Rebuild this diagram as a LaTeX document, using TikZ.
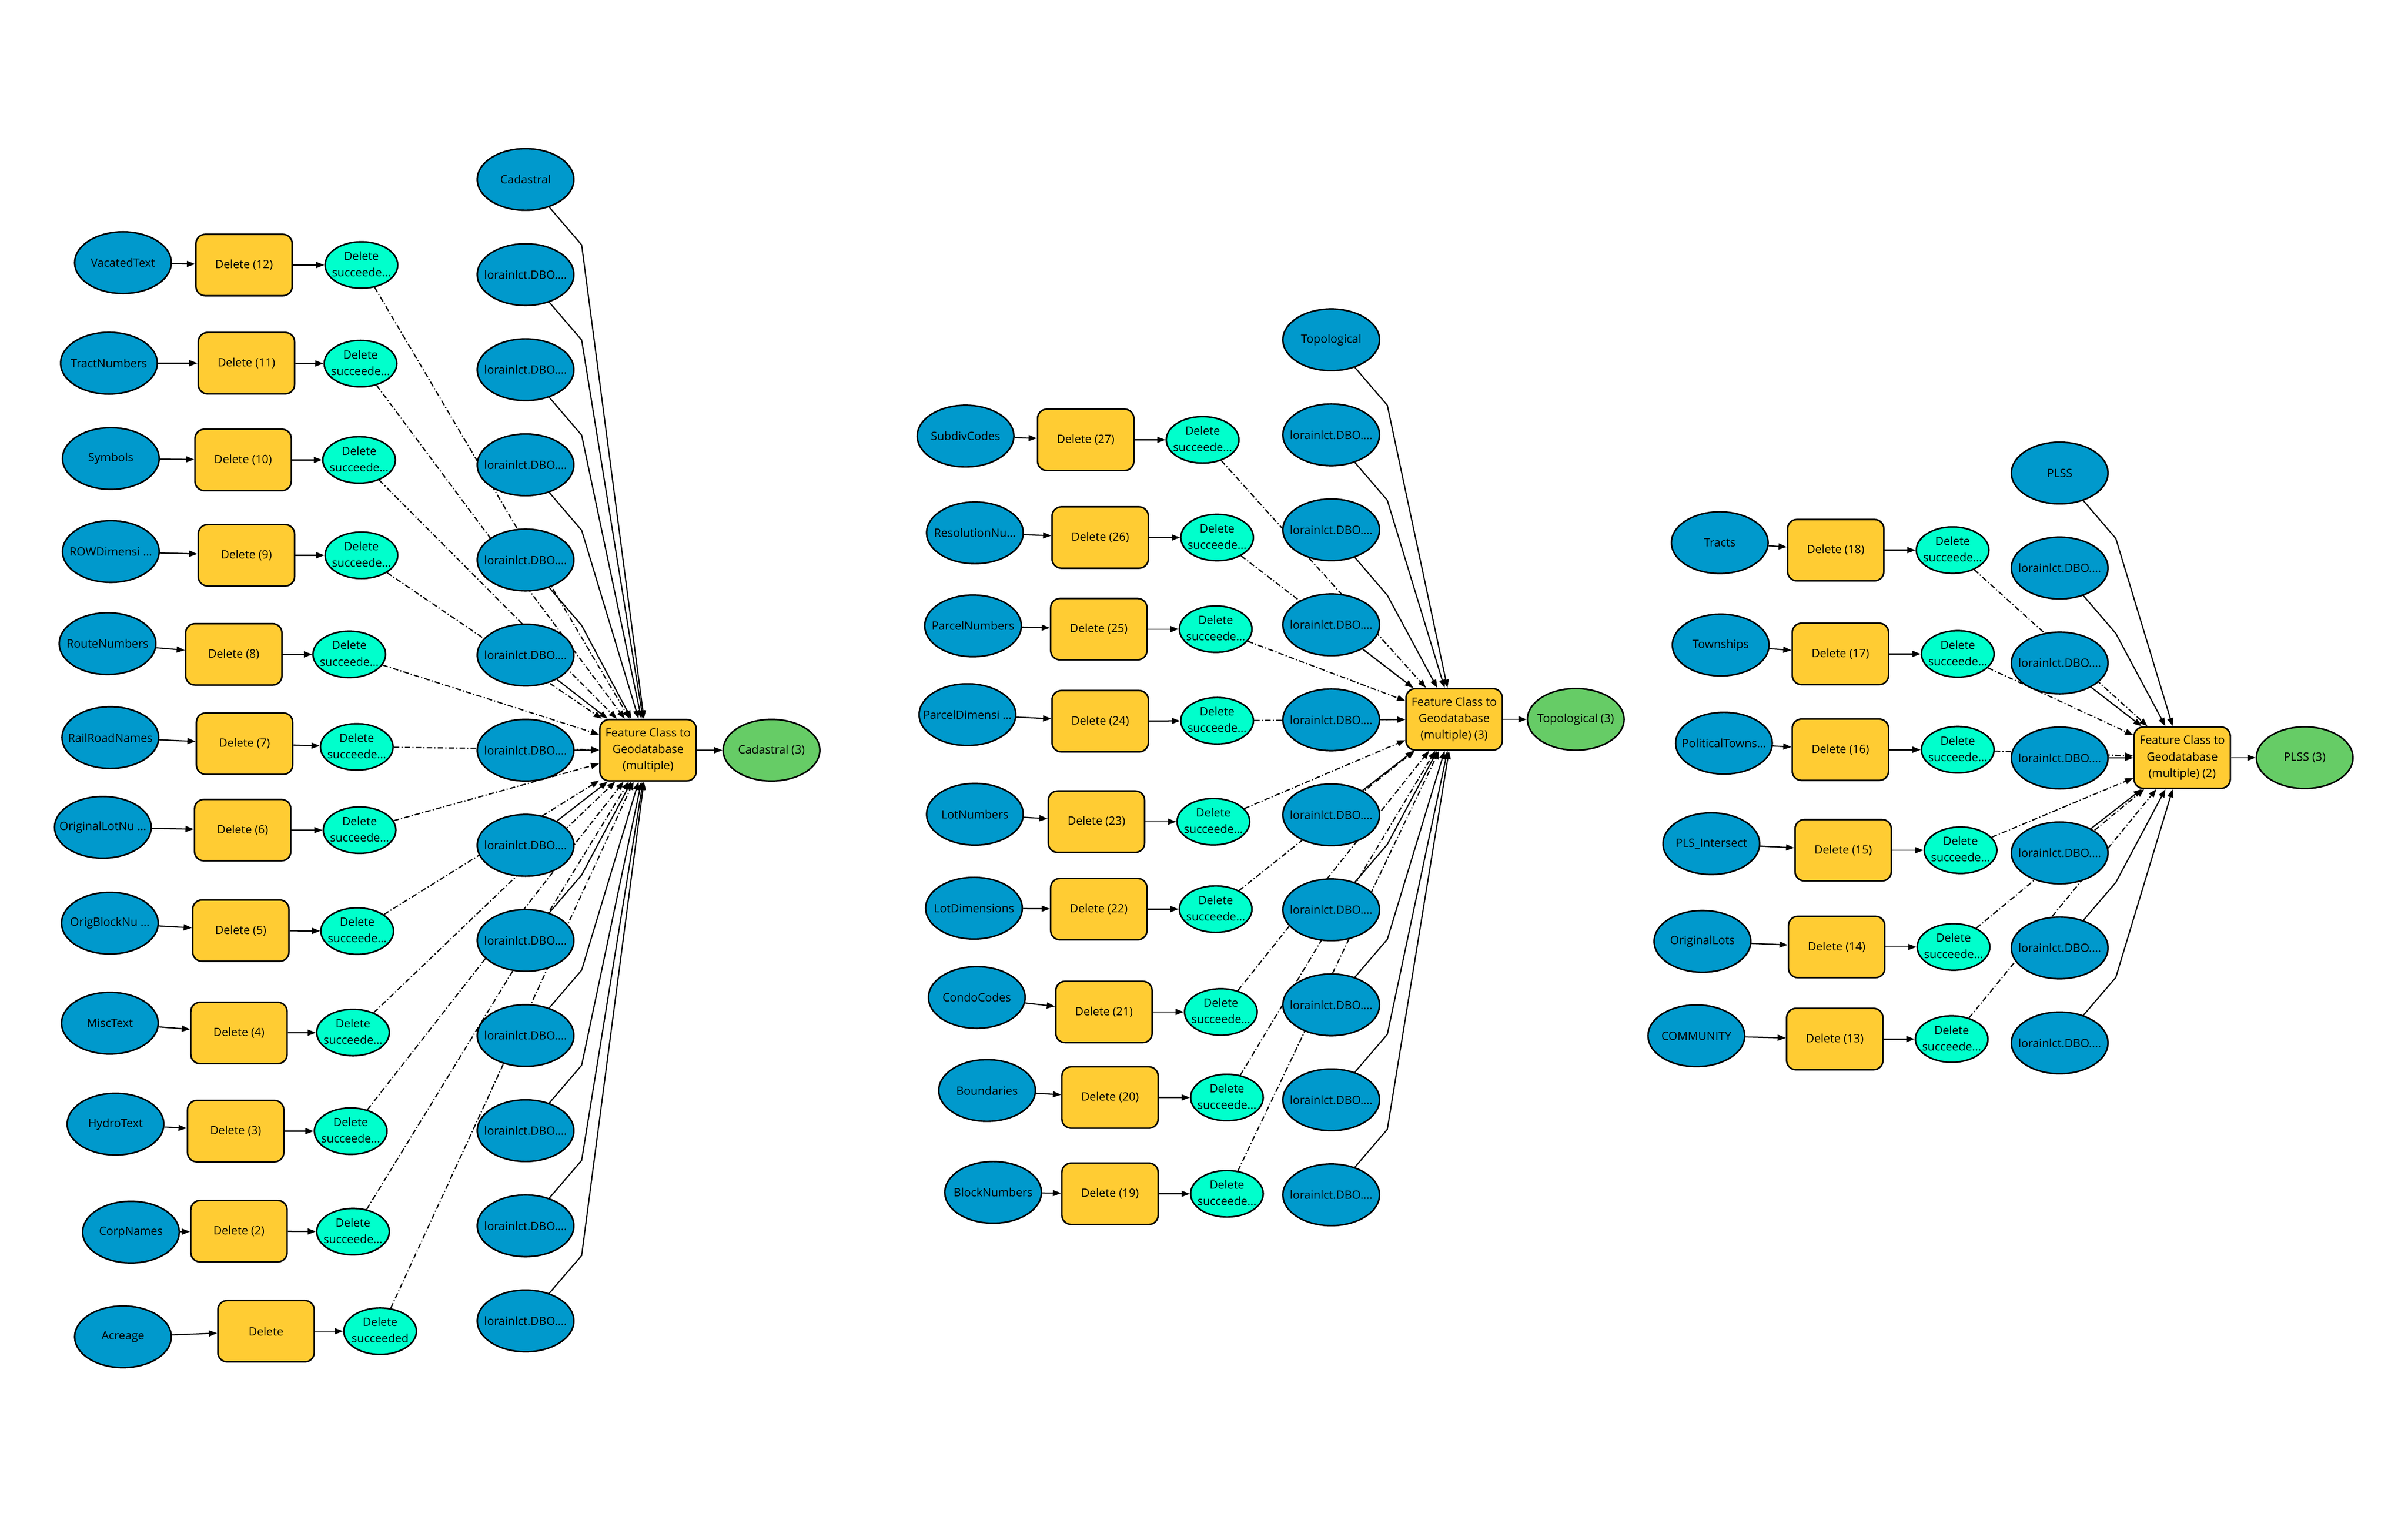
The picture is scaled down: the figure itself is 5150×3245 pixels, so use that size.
\documentclass[tikz,border=0pt]{standalone}
\usepackage{fontspec}
\setmainfont{Open Sans}
\usetikzlibrary{shapes.geometric,arrows.meta,backgrounds}
\definecolor{dsblue}{RGB}{0,153,204}
\definecolor{dsyellow}{RGB}{255,204,51}
\definecolor{dsaqua}{RGB}{0,255,204}
\definecolor{dsgreen}{RGB}{102,204,102}
\newcommand{\mbl}[1]{\makebox[0pt]{#1}}
\newcommand{\twol}[2]{\makebox[0pt]{\begin{tabular}{@{}c@{}}#1\\#2\end{tabular}}}
\tikzset{
src/.style={
  ellipse, draw, line width=1.4pt, fill=dsblue,
  minimum width=3.1cm, minimum height=1.98cm, inner sep=0pt
},
tool/.style={
  rectangle, rounded corners=0.3cm, draw, line width=1.4pt, fill=dsyellow,
  minimum width=3.09cm, minimum height=1.97cm, inner sep=1pt, align=center
},
done/.style={
  ellipse, draw, line width=1.4pt, fill=dsaqua,
  minimum width=2.33cm, minimum height=1.49cm, inner sep=0pt
},
result/.style={src, fill=dsgreen},
link/.style={line width=1.1pt, -{Triangle[length=7.5pt,width=5.5pt]}},
prec/.style={link, dash pattern=on 5pt off 2pt on 1pt off 2pt},
}

\begin{document}
\begin{tikzpicture}[x=0.015cm,y=-0.015cm,font=\fontsize{10.5}{15}\selectfont]
\useasboundingbox (0,0) rectangle (5150,3245);
% the delete steps
\foreach \n/\sname/\sx/\sy/\dname/\dx/\dy/\ux/\uy/\ulast in {
 12/VacatedText/263/562/Delete (12)/522/567/773/567/succeede…,
 11/TractNumbers/233/777/Delete (11)/527/777/771/778/succeede…,
 10/Symbols/237/981/Delete (10)/520/984/768/984/succeede…,
 9/ROWDimensi …/237/1180/Delete (9)/527/1188/773/1188/succeede…,
 8/RouteNumbers/230/1377/Delete (8)/500/1400/747/1400/succeede…,
 7/RailRoadNames/236/1578/Delete (7)/523/1591/763/1598/succeede…,
 6/OriginalLotNu …/220/1770/Delete (6)/519/1776/769/1776/succeede…,
 5/OrigBlockNu …/235/1975/Delete (5)/515/1991/764/1992/succeede…,
 4/MiscText/235/2189/Delete (4)/511/2210/755/2209/succeede…,
 3/HydroText/247/2405/Delete (3)/504/2420/750/2420/succeede…,
 2/CorpNames/280/2636/Delete (2)/511/2634/755/2635/succeede…,
 1/Acreage/263/2860/Delete/569/2848/813/2848/succeeded,
 27/SubdivCodes/2065/933/Delete (27)/2322/941/2572/941/succeede…,
 26/ResolutionNu…/2085/1140/Delete (26)/2353/1150/2603/1150/succeede…,
 25/ParcelNumbers/2081/1339/Delete (25)/2350/1346/2600/1346/succeede…,
 24/ParcelDimensi …/2069/1529/Delete (24)/2353/1543/2603/1542/succeede…,
 23/LotNumbers/2085/1742/Delete (23)/2345/1758/2595/1758/succeede…,
 22/LotDimensions/2083/1943/Delete (22)/2350/1945/2600/1945/succeede…,
 21/CondoCodes/2089/2134/Delete (21)/2361/2165/2611/2165/succeede…,
 20/Boundaries/2111/2333/Delete (20)/2374/2348/2624/2348/succeede…,
 19/BlockNumbers/2124/2551/Delete (19)/2374/2554/2624/2554/succeede…,
 18/Tracts/3678/1161/Delete (18)/3926/1177/4176/1177/succeede…,
 17/Townships/3680/1380/Delete (17)/3936/1399/4187/1399/succeede…,
 16/PoliticalTowns…/3687/1590/Delete (16)/3936/1604/4187/1604/succeede…,
 15/PLS\_Intersect/3660/1805/Delete (15)/3942/1819/4193/1819/succeede…,
 14/OriginalLots/3641/2014/Delete (14)/3928/2026/4178/2026/succeede…,
 13/COMMUNITY/3628/2216/Delete (13)/3924/2223/4174/2223/succeede…}
{
  \node[src] (s\n) at (\sx,\sy) {\mbl{\sname}};
  \node[tool] (d\n) at (\dx,\dy) {\dname};
  \node[done] (u\n) at (\ux,\uy) {\twol{Delete}{\ulast}};
}
% the feature classes
\node[src] (L0) at (1124,384) {\mbl{Cadastral}};
\foreach \k in {1,...,12}
  \node[src] (L\k) at (1124,384+203.5*\k) {\mbl{lorainlct.DBO.…}};
\node[src] (M0) at (2847,727) {\mbl{Topological}};
\foreach \k in {1,...,9}
  \node[src] (M\k) at (2847,727+203.25*\k) {\mbl{lorainlct.DBO.…}};
\node[src] (R0) at (4405,1012) {\mbl{PLSS}};
\foreach \k in {1,...,6}
  \node[src] (R\k) at (4405,1012+203.2*\k) {\mbl{lorainlct.DBO.…}};
% the three exports
\node[tool] (hubL) at (1386,1605) {Feature Class to\\Geodatabase\\(multiple)};
\node[result] (outL) at (1650,1605) {\mbl{Cadastral (3)}};
\node[tool] (hubM) at (3110,1539) {Feature Class to\\Geodatabase\\(multiple) (3)};
\node[result] (outM) at (3370,1539) {\mbl{Topological (3)}};
\node[tool] (hubR) at (4667,1621) {Feature Class to\\Geodatabase\\(multiple) (2)};
\node[result] (outR) at (4929,1621) {\mbl{PLSS (3)}};

\begin{scope}[on background layer]
% the chains
\foreach \n in {1,...,27}
{
  \draw[link] (s\n) -- (d\n);
  \draw[link] (d\n) -- (u\n);
}
% the preconditions
\foreach \n in {1,...,12} \draw[prec] (u\n) -- (hubL);
\foreach \n in {19,...,27} \draw[prec] (u\n) -- (hubM);
\foreach \n in {13,...,18} \draw[prec] (u\n) -- (hubR);
% the inputs of the exports
\foreach \k in {0,...,4}
{
  \coordinate (Lb\k) at ([shift={(120,140)}]L\k.center);
  \draw[link] (L\k) -- (Lb\k) -- (hubL);
}
\foreach \k in {8,...,12}
{
  \coordinate (Lb\k) at ([shift={(120,-140)}]L\k.center);
  \draw[link] (L\k) -- (Lb\k) -- (hubL);
}
\foreach \k in {5,6,7} \draw[link] (L\k) -- (hubL);
\foreach \k in {0,1,2}
{
  \coordinate (Mb\k) at ([shift={(120,140)}]M\k.center);
  \draw[link] (M\k) -- (Mb\k) -- (hubM);
}
\foreach \k in {6,...,9}
{
  \coordinate (Mb\k) at ([shift={(120,-140)}]M\k.center);
  \draw[link] (M\k) -- (Mb\k) -- (hubM);
}
\foreach \k in {3,4,5} \draw[link] (M\k) -- (hubM);
\foreach \k in {0,1}
{
  \coordinate (Rb\k) at ([shift={(120,140)}]R\k.center);
  \draw[link] (R\k) -- (Rb\k) -- (hubR);
}
\foreach \k in {5,6}
{
  \coordinate (Rb\k) at ([shift={(120,-140)}]R\k.center);
  \draw[link] (R\k) -- (Rb\k) -- (hubR);
}
\foreach \k in {2,3,4} \draw[link] (R\k) -- (hubR);
\draw[link] (hubL) -- (outL);
\draw[link] (hubM) -- (outM);
\draw[link] (hubR) -- (outR);
\end{scope}
\end{tikzpicture}
\end{document}
